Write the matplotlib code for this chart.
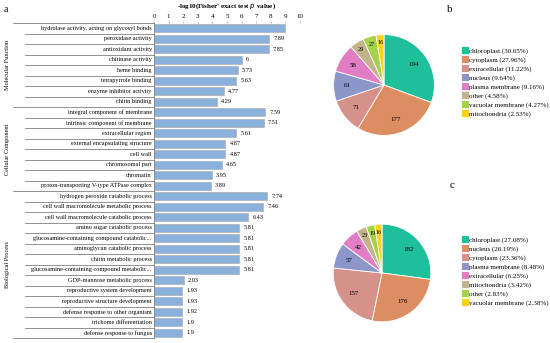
import matplotlib.pyplot as plt
from matplotlib.lines import Line2D
from matplotlib.transforms import blended_transform_factory
import numpy as np

plt.rcParams['font.family'] = ['Liberation Serif', 'DejaVu Serif']

# ---- data: panel a ----
mf_terms = ["hydrolase activity, acting on glycosyl bonds", "peroxidase activity",
            "antioxidant activity", "chitinase activity", "heme binding",
            "tetrapyrrole binding", "enzyme inhibitor activity", "chitin binding"]
mf_vals = [8.97, 7.89, 7.85, 6, 5.73, 5.63, 4.77, 4.29]
cc_terms = ["integral component of membrane", "intrinsic component of membrane",
            "extracellular region", "external encapsulating structure", "cell wall",
            "chromosomal part", "chromatin", "proton-transporting V-type ATPase complex"]
cc_vals = [7.59, 7.51, 5.61, 4.87, 4.87, 4.65, 3.95, 3.89]
bp_terms = ["hydrogen peroxide catabolic process", "cell wall macromolecule metabolic process",
            "cell wall macromolecule catabolic process", "amino sugar catabolic process",
            "glucosamine-containing compound catabolic...", "aminoglycan catabolic process",
            "chitin metabolic process", "glucosamine-containing compound metabolic...",
            "GDP-mannose metabolic process", "reproductive system development",
            "reproductive structure development", "defense response to other organism",
            "trichome differentiation", "defense response to fungus"]
bp_vals = [7.74, 7.46, 6.43, 5.81, 5.81, 5.81, 5.81, 5.81, 2.03, 1.93, 1.93, 1.92, 1.9, 1.9]
group_names = ["Molecular Function", "Cellular Component", "Biological Process"]

# ---- data: panels b, c ----
b_labels = ["chloroplast", "cytoplasm", "extracellular", "nucleus", "plasma membrane",
            "other", "vacuolar membrane", "mitochondria"]
b_counts = [194, 177, 71, 61, 58, 29, 27, 16]
c_labels = ["chloroplast", "nucleus", "cytoplasm", "plasma membrane", "extracellular",
            "mitochondria", "other", "vacuolar membrane"]
c_counts = [182, 176, 157, 57, 42, 23, 19, 16]
pie_colors = ["#1fbf9c", "#dc8d62", "#d6918b", "#8c96c9", "#e17dc2",
              "#c2b38a", "#a6d24a", "#fcd11d"]

W, H = 550, 343
fig = plt.figure(figsize=(5.5, 3.43), dpi=100)

terms = mf_terms + cc_terms + bp_terms
vals = mf_vals + cc_vals + bp_vals
n = len(terms)
ax = fig.add_axes([154 / W, 1 - 338 / H, 146 / W, (338 - 23) / H])
y = np.arange(n)
ax.barh(y, vals, height=0.72, color="#8ab0dc", edgecolor="#a8a8a8", linewidth=0.4)
ax.set_ylim(n - 0.5, -0.5)
ax.set_xlim(0, 10)
ax.xaxis.tick_top()
ax.set_xticks(range(11))
ax.tick_params(axis='x', labelsize=5, length=1.5, width=0.4, pad=1.5, color="#888888")
ax.set_yticks([])
for s in ["right", "bottom", "top"]:
    ax.spines[s].set_visible(False)
ax.spines["left"].set_linewidth(0.5)
ax.spines["left"].set_color("#777777")
fig.text(227 / W, 1 - 6 / H, "-log10(Fisher' exact test $p$ value)", fontsize=5,
         fontweight='bold', ha='center', va='center')

for i, (t, v) in enumerate(zip(terms, vals)):
    ax.text(-0.15, i, t, ha='right', va='center', fontsize=4.5)
    if i > 0:
        ax.text(v + 0.3, i, f"{v:g}", ha='left', va='center', fontsize=4.5)

tr = blended_transform_factory(fig.transFigure, ax.transData)
bounds = [len(mf_terms), len(mf_terms) + len(cc_terms)]
for k in range(n + 1):
    yy = k - 0.5
    x0 = 13 / W if (k in (0, n) or k in bounds) else 25 / W
    fig.add_artist(Line2D([x0, 154 / W], [yy, yy], transform=tr, color="#666666", lw=0.5))

starts = [0, len(mf_terms), len(mf_terms) + len(cc_terms)]
sizes = [len(mf_terms), len(cc_terms), len(bp_terms)]
for name, s0, sz in zip(group_names, starts, sizes):
    fig.text(8 / W, 0, name, rotation=90, ha='center', va='center', fontsize=4.5,
             transform=tr).set_y(s0 + (sz - 1) / 2)

fig.text(6 / W, 1 - 9 / H, "a", fontsize=7, ha='center', va='center')


def pie_panel(counts, labels, cx, cy, r, legx, legy, letter, lx, ly):
    pax = fig.add_axes([(cx - r) / W, 1 - (cy + r) / H, 2 * r / W, 2 * r / H])
    tot = sum(counts)
    wedges, _, autotexts = pax.pie(counts, colors=pie_colors, startangle=90, counterclock=False,
                                   autopct=lambda p: f"{round(p * tot / 100):d}",
                                   pctdistance=0.72,
                                   wedgeprops=dict(edgecolor="white", linewidth=0.6),
                                   textprops=dict(fontsize=5))
    # small slices: push the number out towards the rim, like the original
    for w, t, c in zip(wedges, autotexts, counts):
        if c < 35:
            ang = np.deg2rad((w.theta1 + w.theta2) / 2)
            t.set_position((0.84 * np.cos(ang), 0.84 * np.sin(ang)))
            t.set_fontsize(4.5)
    pax.set_aspect('equal')
    leg_labels = [f"{l} ({c / tot * 100:.2f}%)" for l, c in zip(labels, counts)]
    fig.legend(wedges, leg_labels, loc='upper left', bbox_to_anchor=(legx / W, 1 - legy / H),
               frameon=False, fontsize=5, handlelength=1.1, handleheight=1.4,
               handletextpad=0.1, labelspacing=0.15, borderpad=0, borderaxespad=0)
    fig.text(lx / W, 1 - ly / H, letter, fontsize=8, ha='center', va='center')


pie_panel(b_counts, b_labels, 384, 85, 63, 461, 46, "b", 450, 9)
pie_panel(c_counts, c_labels, 382, 273, 61, 461, 235, "c", 452, 186)

fig.savefig("out.png", dpi=100)
